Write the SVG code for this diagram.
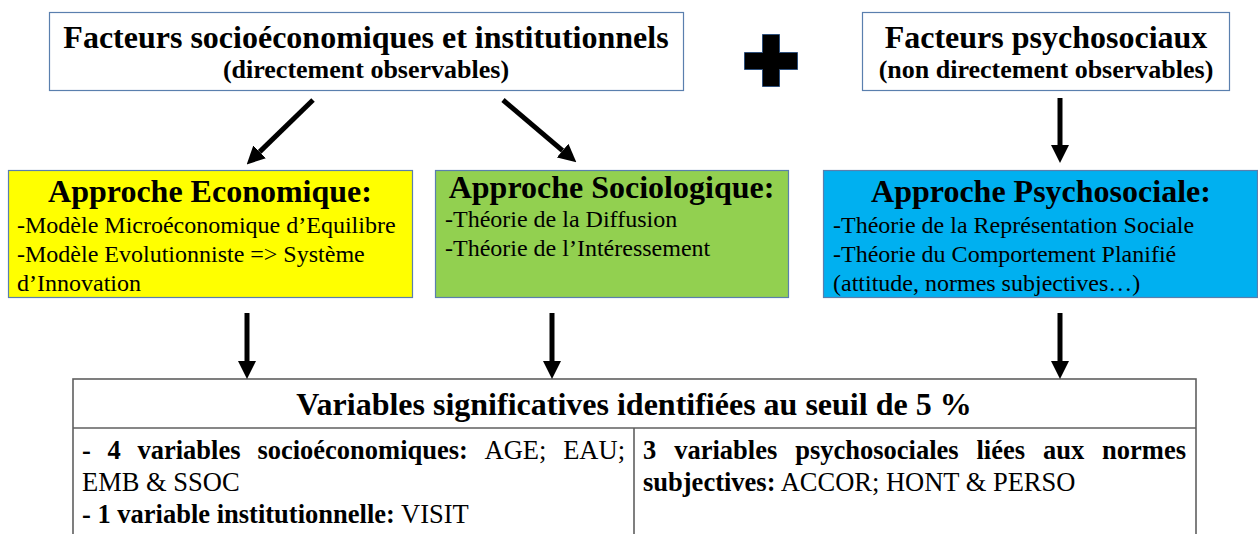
<svg xmlns="http://www.w3.org/2000/svg" width="1258" height="534" viewBox="0 0 1258 534">
  <style>
    text { font-family: "Liberation Serif", "Times New Roman", serif; fill: #000; }
    .b { font-weight: bold; }
    .head { font-size: 32px; font-weight: bold; }
    .sub { font-size: 26px; font-weight: bold; }
    .body { font-size: 24px; }
    .cell { font-size: 26.5px; }
    .topbox { fill: #ffffff; stroke: #5a7fae; stroke-width: 1.2; }
    .appbox { stroke: #5a7fae; stroke-width: 1.2; }
    .arrow { stroke: #000; stroke-width: 5; fill: none; marker-end: url(#ah); }
    .tbl { fill: #ffffff; stroke: #5f5f5f; stroke-width: 1.6; }
  </style>
  <defs>
    <marker id="ah" markerUnits="userSpaceOnUse" markerWidth="18" markerHeight="18" refX="0" refY="8" orient="auto" viewBox="0 0 16 16">
      <path d="M0,0 L16,8 L0,16 z" fill="#000"/>
    </marker>
  </defs>
  <rect width="1258" height="534" fill="#ffffff"/>

  <g id="facteurs-socio">
    <rect class="topbox" x="49.5" y="12.5" width="634" height="78"/>
    <text class="head" x="366" y="48" text-anchor="middle">Facteurs socioéconomiques et institutionnels</text>
    <text class="sub" x="366" y="78" text-anchor="middle">(directement observables)</text>
  </g>

  <g id="plus">
    <path d="M762.5,34.5 h17 v18 h18 v17 h-18 v17 h-17 v-17 h-18 v-17 h18 z" fill="#000" stroke="#2e4f7a" stroke-width="1"/>
  </g>

  <g id="facteurs-psycho">
    <rect class="topbox" x="862.5" y="12.5" width="367" height="78"/>
    <text class="head" x="1046" y="48" text-anchor="middle">Facteurs psychosociaux</text>
    <text class="sub" x="1046" y="78" text-anchor="middle">(non directement observables)</text>
  </g>

  <g id="approche-economique">
    <rect class="appbox" x="8.5" y="170.5" width="404" height="127" fill="#ffff00"/>
    <text class="head" x="210" y="202" text-anchor="middle">Approche Economique:</text>
    <text class="body" x="17" y="233">-Modèle Microéconomique d’Equilibre</text>
    <text class="body" x="17" y="262">-Modèle Evolutionniste =&gt; Système</text>
    <text class="body" x="17" y="291">d’Innovation</text>
  </g>

  <g id="approche-sociologique">
    <rect class="appbox" x="435.5" y="170.5" width="353" height="127" fill="#92d050"/>
    <text class="head" x="611.5" y="198" text-anchor="middle">Approche Sociologique:</text>
    <text class="body" x="445" y="227">-Théorie de la Diffusion</text>
    <text class="body" x="445" y="256">-Théorie de l’Intéressement</text>
  </g>

  <g id="approche-psychosociale">
    <rect class="appbox" x="823.5" y="170.5" width="434" height="127" fill="#00b0f0"/>
    <text class="head" x="1041" y="202" text-anchor="middle">Approche Psychosociale:</text>
    <text class="body" x="833" y="233">-Théorie de la Représentation Sociale</text>
    <text class="body" x="833" y="262">-Théorie du Comportement Planifié</text>
    <text class="body" x="833" y="291">(attitude, normes subjectives…)</text>
  </g>

  <g id="variables-table">
    <rect class="tbl" x="73" y="379" width="1123" height="170"/>
    <line x1="73" y1="428" x2="1196" y2="428" stroke="#5f5f5f" stroke-width="1.6"/>
    <line x1="634" y1="428" x2="634" y2="534" stroke="#5f5f5f" stroke-width="1.6"/>
    <text class="head" x="634" y="415" text-anchor="middle">Variables significatives identifiées au seuil de 5 %</text>
    <text class="cell" y="459"><tspan class="b" x="82">-</tspan><tspan class="b" x="107.5">4</tspan><tspan class="b" x="137.5">variables</tspan><tspan class="b" x="257.4">socioéconomiques:</tspan><tspan x="484.6">AGE;</tspan><tspan x="625" text-anchor="end">EAU;</tspan></text>
    <text class="cell" x="82" y="491">EMB &amp; SSOC</text>
    <text class="cell" x="82" y="523"><tspan class="b">- 1 variable institutionnelle:</tspan> VISIT</text>
    <text class="cell b" y="459"><tspan x="643">3</tspan><tspan x="674.2">variables</tspan><tspan x="795.2">psychosociales</tspan><tspan x="976.5">liées</tspan><tspan x="1043">aux</tspan><tspan x="1186" text-anchor="end">normes</tspan></text>
    <text class="cell" x="643" y="491"><tspan class="b">subjectives:</tspan> ACCOR; HONT &amp; PERSO</text>
  </g>

  <g id="connectors">
    <line class="arrow" x1="313" y1="100" x2="259.6" y2="151.9"/>
    <line class="arrow" x1="503" y1="100" x2="562.6" y2="150.6"/>
    <line class="arrow" x1="1060" y1="98" x2="1060" y2="145"/>
    <line class="arrow" x1="247" y1="313" x2="247" y2="361"/>
    <line class="arrow" x1="552" y1="313" x2="552" y2="361"/>
    <line class="arrow" x1="1060" y1="313" x2="1060" y2="361"/>
  </g>
</svg>
